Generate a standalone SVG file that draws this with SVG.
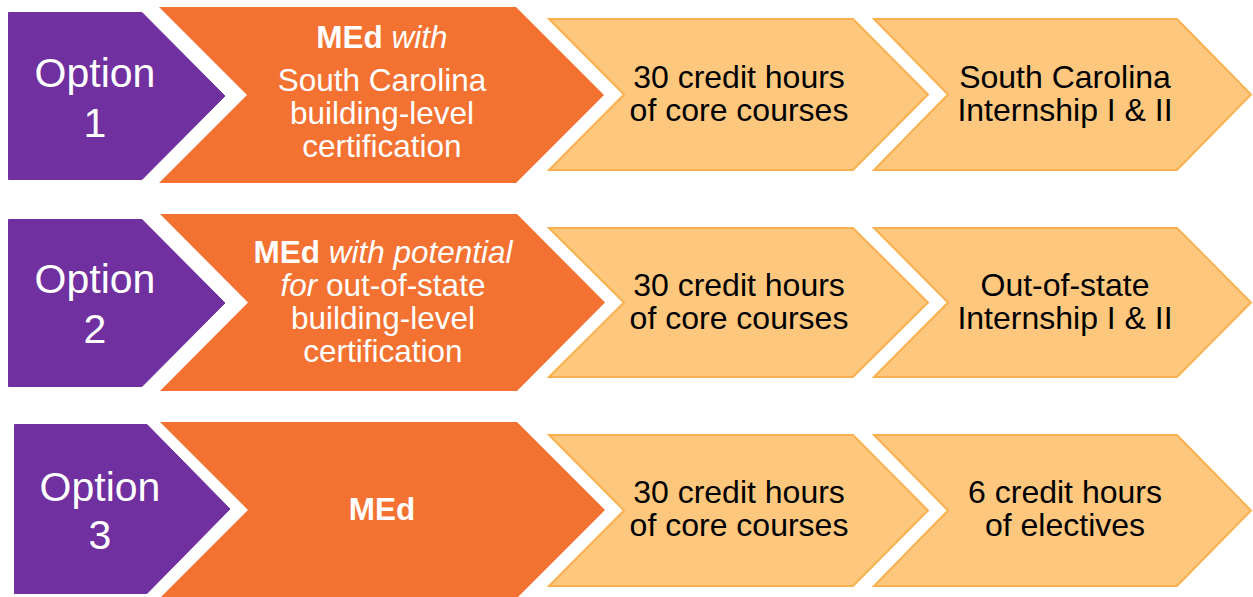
<svg xmlns="http://www.w3.org/2000/svg" width="1253" height="597" viewBox="0 0 1253 597">
<style>
.purple{fill:#7030A0;stroke:#7030A0;stroke-width:1;stroke-linejoin:round}
.orange{fill:#F37232}
.light{fill:#FDC77E;stroke:#FAB04E;stroke-width:2}
.t{font-family:"Liberation Sans",Arial,Helvetica,sans-serif;text-anchor:middle}
.opt{font-size:41px;fill:#ffffff}
.wt{font-size:31.5px;fill:#ffffff}
.bk{font-size:32px;fill:#000000}
.b{font-weight:bold;font-style:normal}
.i{font-style:italic}
</style>
<rect width="1253" height="597" fill="#ffffff"/>
<g id="connectors"></g>
<g id="option1">
<polygon class="purple" points="8.5,12.5 142,12.5 225,96 142,179.5 8.5,179.5"/>
<text class="t opt" x="95" y="87">Option</text>
<text class="t opt" x="95" y="137">1</text>
</g>
<g id="med1">
<polygon class="orange" points="159,7 516,7 604,95 516,183 159,183 247,95"/>
<text class="t wt" x="382" y="48"><tspan class="b">MEd</tspan> <tspan class="i">with</tspan></text>
<text class="t wt" x="382" y="90.5">South Carolina</text>
<text class="t wt" x="382" y="123.5">building-level</text>
<text class="t wt" x="382" y="156.5">certification</text>
</g>
<g id="core1">
<polygon class="light" points="549,19 853,19 928,94.5 853,170 549,170 624,94.5"/>
<text class="t bk" x="739" y="88">30 credit hours</text>
<text class="t bk" x="739" y="121">of core courses</text>
</g>
<g id="intern1">
<polygon class="light" points="874,19 1177,19 1251,94.5 1177,170 874,170 948,94.5"/>
<text class="t bk" x="1065" y="88">South Carolina</text>
<text class="t bk" x="1065" y="121">Internship I &amp; II</text>
</g>
<g id="option2">
<polygon class="purple" points="8.5,219.5 142,219.5 225,303 142,386.5 8.5,386.5"/>
<text class="t opt" x="95" y="293">Option</text>
<text class="t opt" x="95" y="343">2</text>
</g>
<g id="med2">
<polygon class="orange" points="160,214 517,214 605,302.5 517,391 160,391 248,302.5"/>
<text class="t wt" x="383" y="263"><tspan class="b">MEd</tspan> <tspan class="i">with potential</tspan></text>
<text class="t wt" x="383" y="296"><tspan class="i">for</tspan> out-of-state</text>
<text class="t wt" x="383" y="329">building-level</text>
<text class="t wt" x="383" y="362">certification</text>
</g>
<g id="core2">
<polygon class="light" points="549,228 853,228 928,302.5 853,377 549,377 624,302.5"/>
<text class="t bk" x="739" y="296">30 credit hours</text>
<text class="t bk" x="739" y="329">of core courses</text>
</g>
<g id="intern2">
<polygon class="light" points="874,228 1177,228 1251,302.5 1177,377 874,377 948,302.5"/>
<text class="t bk" x="1065" y="296">Out-of-state</text>
<text class="t bk" x="1065" y="329">Internship I &amp; II</text>
</g>
<g id="option3">
<polygon class="purple" points="14.5,424.5 147,424.5 230,509 147,593.5 14.5,593.5"/>
<text class="t opt" x="100" y="501">Option</text>
<text class="t opt" x="100" y="549">3</text>
</g>
<g id="med3">
<polygon class="orange" points="160,422 517,422 605,510 517,598 160,598 248,510"/>
<text class="t wt b" x="382" y="520">MEd</text>
</g>
<g id="core3">
<polygon class="light" points="549,435 853,435 928,510.5 853,586 549,586 624,510.5"/>
<text class="t bk" x="739" y="503">30 credit hours</text>
<text class="t bk" x="739" y="536">of core courses</text>
</g>
<g id="electives3">
<polygon class="light" points="874,435 1177,435 1251,510.5 1177,586 874,586 948,510.5"/>
<text class="t bk" x="1065" y="503">6 credit hours</text>
<text class="t bk" x="1065" y="536">of electives</text>
</g>
</svg>
